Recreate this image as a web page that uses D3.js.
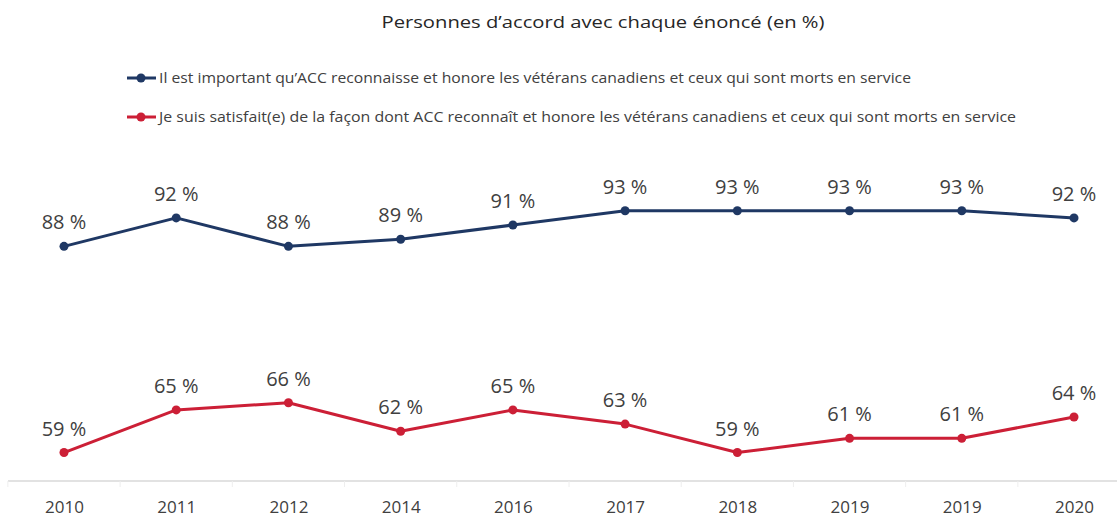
<!DOCTYPE html>
<html><head><meta charset="utf-8">
<script src="https://cdn.jsdelivr.net/npm/d3@7"></script>
<style>body{margin:0;background:#fff}svg{display:block;font-family:"Open Sans",sans-serif}</style>
</head><body>
<svg id="c" width="1117" height="519"></svg>
<script>
const years = ["2010","2011","2012","2014","2016","2017","2018","2019","2019","2020"];
const important = [88,92,88,89,91,93,93,93,93,92];
const satisfied = [59,65,66,62,65,63,59,61,61,64];
const seriesNames = [
  "Il est important qu’ACC reconnaisse et honore les vétérans canadiens et ceux qui sont morts en service",
  "Je suis satisfait(e) de la façon dont ACC reconnaît et honore les vétérans canadiens et ceux qui sont morts en service"
];
const title = "Personnes d’accord avec chaque énoncé (en %)";
const colors = ["#1f3864","#cc1f36"];

const svg = d3.select("#c");
const idx = years.map((d,i)=>i);
const x = d3.scalePoint().domain(idx).range([64,1074]);
const y = d3.scaleLinear().domain([55,100]).range([481,161]);

svg.append("text").attr("x",603).attr("y",28).attr("text-anchor","middle")
  .attr("font-size",17).attr("fill","#262626")
  .attr("textLength",443).attr("lengthAdjust","spacingAndGlyphs").text(title);

const legY = [78,117];
const legW = [752,857];
seriesNames.forEach((n,i)=>{
  const g = svg.append("g");
  g.append("line").attr("x1",127).attr("x2",156).attr("y1",legY[i]).attr("y2",legY[i])
    .attr("stroke",colors[i]).attr("stroke-width",3);
  g.append("circle").attr("cx",141).attr("cy",legY[i]).attr("r",4.5).attr("fill",colors[i]);
  g.append("text").attr("x",159).attr("y",legY[i]+5).attr("font-size",14).attr("fill","#404040")
    .attr("textLength",legW[i]).attr("lengthAdjust","spacingAndGlyphs").text(n);
});

// x axis
const axis = d3.axisBottom(x).tickFormat(i=>years[i]).tickSize(0).tickPadding(20);
const ag = svg.append("g").attr("transform","translate(0,481)").call(axis);
ag.select(".domain").remove();
ag.selectAll("text").attr("font-size",17).attr("fill","#404040").attr("font-family","Open Sans");
svg.append("line").attr("x1",8).attr("x2",1117).attr("y1",481).attr("y2",481)
  .attr("stroke","#d9d9d9").attr("stroke-width",1.5);
const step = x.step();
idx.forEach(i=>{
  svg.append("line").attr("x1",x(i)-step/2).attr("x2",x(i)-step/2).attr("y1",481).attr("y2",487)
    .attr("stroke","#eeeeee");
});

[important,satisfied].forEach((vals,s)=>{
  const line = d3.line().x((d,i)=>x(i)).y(d=>y(d));
  svg.append("path").datum(vals).attr("d",line).attr("fill","none")
    .attr("stroke",colors[s]).attr("stroke-width",3).attr("stroke-linejoin","round");
  svg.selectAll(null).data(vals).enter().append("circle")
    .attr("cx",(d,i)=>x(i)).attr("cy",d=>y(d)).attr("r",4.5).attr("fill",colors[s]);
  svg.selectAll(null).data(vals).enter().append("text")
    .attr("x",(d,i)=>x(i)).attr("y",d=>y(d)-17).attr("text-anchor","middle")
    .attr("font-size",20).attr("fill","#404040").text(d=>d+" %");
});
</script>
</body></html>
